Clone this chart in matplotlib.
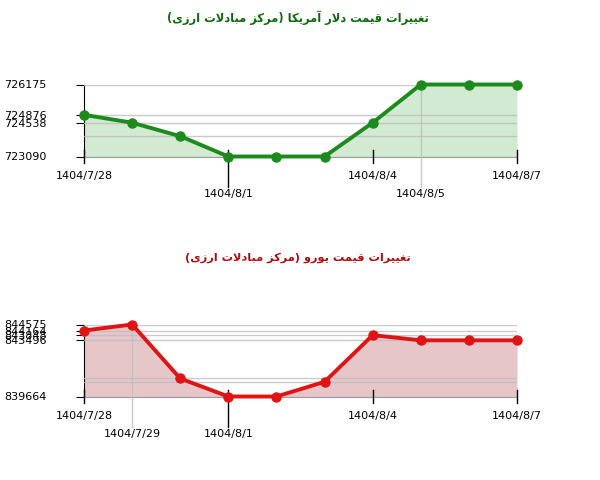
import matplotlib
matplotlib.use("Agg")
import matplotlib.pyplot as plt

# ---- data ----
dates = ["1404/7/28", "1404/7/29", "1404/7/30", "1404/8/1", "1404/8/2",
         "1404/8/3", "1404/8/4", "1404/8/5", "1404/8/6", "1404/8/7"]

usd_values = [724876, 724538, 723960, 723090, 723090, 723090,
              724538, 726175, 726175, 726175]
usd_yticks = [726175, 724876, 724538, 723090]
usd_title = "تغییرات قیمت دلار آمریکا (مرکز مبادلات ارزی)"

eur_values = [844164, 844575, 840892, 839664, 839664, 840665,
              843848, 843496, 843496, 843496]
eur_yticks = [844575, 844164, 843848, 843496, 839664]
eur_title = "تغییرات قیمت یورو (مرکز مبادلات ارزی)"

# which dates get a label: (index, row, kind)
usd_xlabels = [(0, 1, "tick"), (3, 2, "tick"), (6, 1, "tick"), (7, 2, "grid"), (9, 1, "tick")]
eur_xlabels = [(0, 1, "tick"), (1, 2, "grid"), (3, 2, "tick"), (6, 1, "tick"), (9, 1, "tick")]


# ---- tiny Persian shaper (matplotlib has no complex text layout) ----
FORMS = {
    'ا': ('\uFE8D', '\uFE8E', None, None),
    'آ': ('\uFE81', '\uFE82', None, None),
    'ب': ('\uFE8F', '\uFE90', '\uFE91', '\uFE92'),
    'ت': ('\uFE95', '\uFE96', '\uFE97', '\uFE98'),
    'د': ('\uFEA9', '\uFEAA', None, None),
    'ر': ('\uFEAD', '\uFEAE', None, None),
    'ز': ('\uFEAF', '\uFEB0', None, None),
    'غ': ('\uFECD', '\uFECE', '\uFECF', '\uFED0'),
    'ق': ('\uFED5', '\uFED6', '\uFED7', '\uFED8'),
    'ل': ('\uFEDD', '\uFEDE', '\uFEDF', '\uFEE0'),
    'م': ('\uFEE1', '\uFEE2', '\uFEE3', '\uFEE4'),
    'و': ('\uFEED', '\uFEEE', None, None),
    'ی': ('\uFBFC', '\uFBFD', '\uFBFE', '\uFBFF'),
    'ک': ('\uFB8E', '\uFB8F', '\uFB90', '\uFB91'),
}


def joins_next(c):
    return c in FORMS and FORMS[c][2] is not None


def shape(text):
    out = []
    i = 0
    while i < len(text):
        c = text[i]
        prev = text[i - 1] if i > 0 else ""
        nxt = text[i + 1] if i + 1 < len(text) else ""
        jp = joins_next(prev)
        if c == 'ل' and nxt == 'ا':
            out.append('\uFEFC' if jp else '\uFEFB')
            i += 2
            continue
        if c in FORMS:
            iso, fin, ini, med = FORMS[c]
            jn = ini is not None and nxt in FORMS
            if jp and jn:
                out.append(med)
            elif jp:
                out.append(fin)
            elif jn:
                out.append(ini)
            else:
                out.append(iso)
        else:
            out.append(c)
        i += 1
    vis = "".join(out)[::-1]
    return vis.translate(str.maketrans("()", ")("))


plt.rcParams['font.family'] = ['DejaVu Sans']

fig = plt.figure(figsize=(6, 4.8), dpi=100)

ax01 = fig.add_axes([84 / 600, 1 - 156.5 / 480, 433 / 600, 72 / 480])
ax02 = fig.add_axes([84 / 600, 1 - 396.5 / 480, 433 / 600, 72 / 480])


def draw_chart(ax, values, yticks, xlabels, line_color, fill_color):
    x = list(range(len(values)))
    lo, hi = min(values), max(values)
    ax.set_xlim(0, len(values) - 1)
    ax.set_ylim(lo, hi)

    # horizontal grid at every distinct value
    for v in sorted(set(values)):
        ax.axhline(v, color="#bdbdbd", lw=1, alpha=0.8, zorder=3)

    ax.fill_between(x, values, lo, color=fill_color, lw=0, zorder=2)
    ax.plot(x, values, color=line_color, lw=2.8, marker="o", markersize=6.5,
            clip_on=False, zorder=5)

    for s in ["top", "right"]:
        ax.spines[s].set_visible(False)
    ax.spines["bottom"].set_color("#9a9a9a")
    ax.spines["left"].set_color("black")

    ax.set_yticks(yticks)
    ax.set_yticklabels([str(v) for v in yticks])
    ax.tick_params(axis="y", direction="out", length=6, pad=21, labelsize=8)
    ax.set_xticks([])

    for idx, row, kind in xlabels:
        if kind == "grid":
            ax.axvline(idx, ymin=-0.42, ymax=1, color="#bdbdbd", lw=1,
                       alpha=0.8, clip_on=False, zorder=3)
        elif row == 2:
            ax.axvline(idx, ymin=-0.43, ymax=0.085, color="black", lw=1,
                       clip_on=False, zorder=4)
        else:
            ax.axvline(idx, ymin=-0.085, ymax=0.085, color="black", lw=1,
                       clip_on=False, zorder=4)
        dy = -19 if row == 1 else -37
        ax.annotate(dates[idx], xy=(idx, 0), xycoords=("data", "axes fraction"),
                    xytext=(0, dy * 0.72), textcoords="offset points",
                    ha="center", va="center", fontsize=8)


draw_chart(ax01, usd_values, usd_yticks, usd_xlabels, "#1c8a1c", "#d2e9d2")
draw_chart(ax02, eur_values, eur_yticks, eur_xlabels, "#e01414", "#e7c6c9")

fig.text(298 / 600, 1 - 18 / 480, shape(usd_title), ha="center", va="center",
         fontsize=8.3, fontweight="bold", color="#0b6a0b")
fig.text(298 / 600, 1 - 258 / 480, shape(eur_title), ha="center", va="center",
         fontsize=8.2, fontweight="bold", color="#b00e0e")

fig.savefig("out.png", dpi=100)
